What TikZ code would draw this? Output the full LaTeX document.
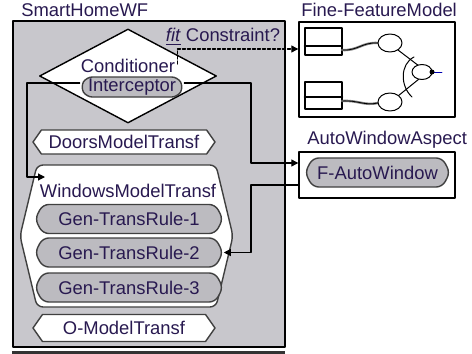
\documentclass[tikz,border=0pt]{standalone}
\usepackage{fontspec}
\setmainfont{Liberation Sans}
\usetikzlibrary{arrows.meta}
\usetikzlibrary{shapes.geometric,shapes.symbols}
\usetikzlibrary{calc}

\definecolor{wfgray}{RGB}{200,199,204}
\definecolor{rulegray}{RGB}{188,187,192}
\definecolor{txtblue}{RGB}{40,25,80}

\tikzset{
	lbl/.style={inner sep=0pt, text=txtblue, font=\fontsize{9.2}{11}\selectfont},
	hexbox/.style={lbl, signal, signal to=west and east, draw=black!75, fill=white, line width=0.7pt,
		minimum width=91pt, minimum height=12pt, signal pointer angle=110},
	rulebox/.style={hexbox, fill=rulegray, rounded corners=3pt, minimum width=94pt, minimum height=14.5pt,
		signal pointer angle=124},
	framebox/.style={draw, line width=0.7pt, fill=white, inner sep=0pt},
}

\begin{document}
\begin{tikzpicture}[x=0.5pt, y=-0.5pt, line cap=round, line join=round, >={Triangle[length=3.5pt,width=3.5pt]}]
		\useasboundingbox (0,0) rectangle (472,354);
		% workflow
		\node[framebox, fill=wfgray, minimum width=136pt, minimum height=163pt] (shwf) at (149,184) {};
		\node[lbl, anchor=west] (shwft) at (21,10) {SmartHomeWF};
		\draw[line width=2pt, black!80, line cap=butt] (12,352.5) -- (285,352.5);
		% conditioner
		\node[diamond, draw, fill=white, line width=0.7pt, inner sep=0pt, minimum width=88.5pt, minimum height=47pt] (cnd) at (128,76) {};
		\node[lbl] (cndt) at (128,66) {Conditioner};
		\node[rulebox, minimum width=51.5pt, minimum height=10pt, signal pointer angle=120] (icp) at (132,87) {Interceptor};
		% transformations
		\node[hexbox] (dmt) at (124,142) {DoorsModelTransf};
		\node[hexbox, rounded corners=3pt, minimum width=106.5pt, minimum height=71pt, signal pointer angle=153] (wmt) at (126.5,236) {};
		\node[lbl] (wmtt) at (128,191) {WindowsModelTransf};
		\foreach \i/\y in {1/219,2/252.5,3/287.5}
			\node[rulebox] (r\i) at (129,\y) {Gen-TransRule-\i};
		\node[hexbox, minimum height=13.5pt] (omt) at (124,328) {O-ModelTransf};
		% feature model
		\node[framebox, minimum width=78pt, minimum height=47.5pt] (ffm) at (377,69.5) {};
		\node[lbl, anchor=west] (ffmt) at (301,10) {Fine-FeatureModel};
		\draw[line width=1.3pt] (305,28) rectangle (342,55) (305,46) -- (342,46);
		\draw[line width=1.3pt] (305,82) rectangle (342,109) (305,97) -- (342,97);
		\draw[gray, line width=1.2pt] (342,50) .. controls (358,51) and (362,42) .. (378,43);
		\draw[gray, line width=1.2pt] (342,101) .. controls (358,100) and (364,106) .. (378,103);
		\draw[line width=0.4pt] (342,50) .. controls (358,51) and (362,42) .. (378,43);
		\draw[line width=0.4pt] (342,101) .. controls (358,100) and (364,106) .. (378,103);
		\draw[line width=0.5pt] (398,50) -- (419,66);
		\draw[line width=0.5pt] (398,96) -- (419,79);
		\draw[line width=0.5pt] (414,57) .. controls (400,64) and (400,86) .. (412,97);
		\draw[line width=0.5pt, fill=white] (390,43) ellipse (12 and 9);
		\draw[line width=0.5pt, fill=white] (390,102) ellipse (12 and 9);
		\draw[line width=0.5pt, fill=white] (422,72) ellipse (10 and 7.5);
		\draw[blue!70!black, line width=0.4pt] (432,72) -- (442,72);
		\fill (432,72) circle (2.5);
		% aspect
		\node[framebox, minimum width=78pt, minimum height=23pt] (awa) at (377,175) {};
		\node[lbl, anchor=west] (awat) at (307,140) {AutoWindowAspect};
		\node[rulebox, minimum width=72.5pt, minimum height=14.5pt] (faw) at (377.5,172.5) {F-AutoWindow};
		% connectors
		\coordinate (bendL) at (27,0);
		\coordinate (bendR) at (251,0);
		\coordinate (wmtin) at (45,177);
		\coordinate (awain) at ($(awa.west)+(0,-12)$);
		\coordinate (awaout) at ($(awa.west)+(0,10)$);
		\coordinate (ffmin) at ($(ffm.west)+(0,-20.5)$);
		\draw[->, line width=0.6pt] ($(icp.west)+(0,-4)$) -| (bendL |- wmtin) -- (wmtin);
		\draw[->, line width=0.6pt] ($(icp.east)+(0,-4)$) -| (bendR |- awain) -- (awain);
		\draw[->, line width=0.6pt] (awaout) -| (bendR |- r2.east) -- (r2.east);
		\draw[->, line width=0.6pt, dash pattern=on 1.5pt off 1pt] ($(cndt.east)+(2,-2)$) |- (ffmin);
		\node[lbl] (fitc) at (223,37) {\underline{\textit{fit}} Constraint?};
\end{tikzpicture}
\end{document}
